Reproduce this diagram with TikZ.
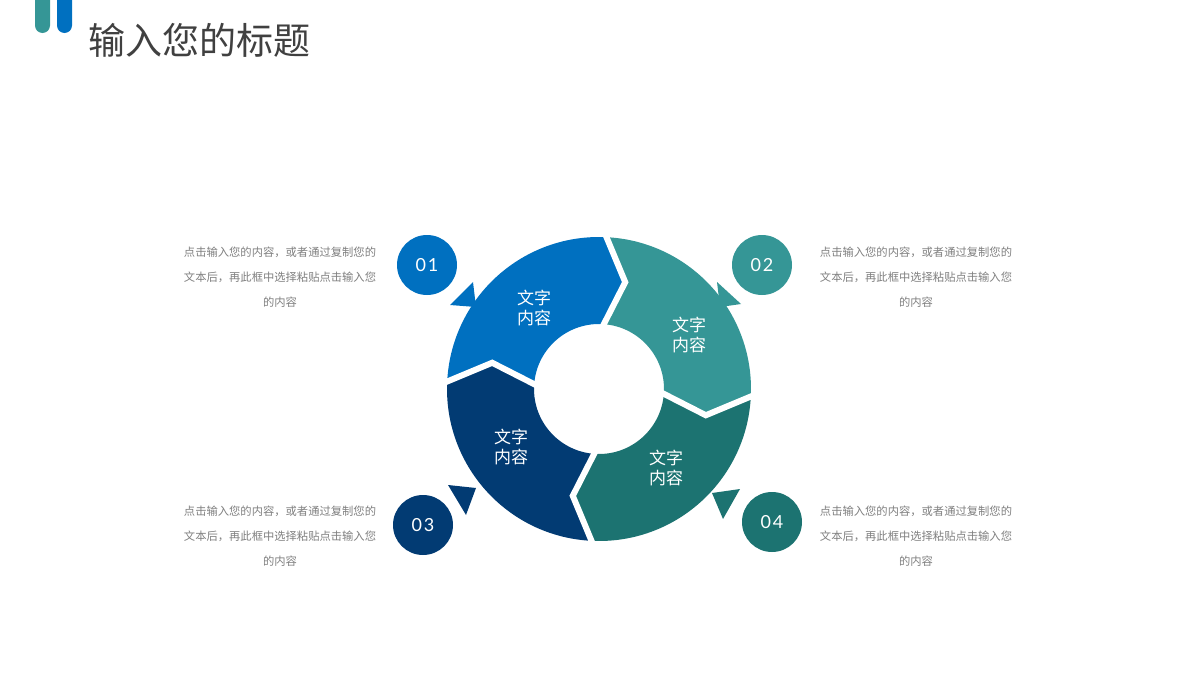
\documentclass[tikz,border=0pt]{standalone}
\usepackage{fontspec}
\setmainfont{Noto Sans CJK SC}
\newfontfamily\numfont[LetterSpace=10]{Lato}
\definecolor{cblue}{HTML}{0070C0}
\definecolor{cteal}{HTML}{359696}
\definecolor{cdteal}{HTML}{1C7371}
\definecolor{cdblue}{HTML}{023B73}
\definecolor{ctitle}{HTML}{404040}
\definecolor{cdesc}{HTML}{7F7F7F}
\newcommand\ringseg[3]{%
  \fill[#1] (#2:152pt) arc[start angle=#2, end angle=#3, radius=152pt]
    -- ({#3-12}:110pt) -- (#3:65pt)
    arc[start angle=#3, end angle=#2, radius=65pt]
    -- ({#2-12}:110pt) -- cycle;}
\newcommand\ringgap[1]{%
  \draw[white, line width=6pt, line join=miter] (#1:158pt) -- ({#1-12}:110pt) -- (#1:59pt);}
\tikzset{
  numcirc/.style={circle, minimum size=60pt, inner sep=0pt, text=white,
    font=\numfont\fontsize{18}{18}\selectfont},
  seglabel/.style={align=center, text=white, inner sep=0pt,
    font=\fontsize{17}{20}\selectfont},
  desc/.style={align=center, text=cdesc, inner sep=0pt,
    font=\fontsize{11.3}{25}\selectfont},
}
\begin{document}
\begin{tikzpicture}[x=1pt,y=1pt]
\useasboundingbox (0,0) rectangle (1200,-680);
% logo bars
\fill[cteal] (35,0) -- (35,-25.5) arc[start angle=180, end angle=360, radius=7.5pt] -- (50,0) -- cycle;
\fill[cblue] (57,0) -- (57,-25.5) arc[start angle=180, end angle=360, radius=7.5pt] -- (72,0) -- cycle;
% title
\node[anchor=west, text=ctitle, inner sep=0pt, font=\fontsize{37}{40}\selectfont] (title) at (88,-40) {输入您的标题};
% ring
\begin{scope}[shift={(599,-389)}]
  \ringseg{cblue}{178.2}{88.2}
  \ringseg{cteal}{88.2}{-1.8}
  \ringseg{cdteal}{-1.8}{-91.8}
  \ringseg{cdblue}{268.2}{178.2}
  \ringgap{88.2}
  \ringgap{-1.8}
  \ringgap{-91.8}
  \ringgap{178.2}
\end{scope}
% segment labels
\node[seglabel] (s1) at (534,-308) {文字\\内容};
\node[seglabel] (s2) at (689,-335) {文字\\内容};
\node[seglabel] (s3) at (666,-468) {文字\\内容};
\node[seglabel] (s4) at (511,-447) {文字\\内容};
% small triangles
\fill[cblue] (473,-282) -- (450,-305) -- (476,-307) -- cycle;
\fill[cteal] (717,-282) -- (741,-304) -- (720,-307) -- cycle;
\fill[cdblue] (448,-485) -- (476,-488) -- (466,-515) -- cycle;
\fill[cdteal] (712,-493) -- (740,-489) -- (723,-519) -- cycle;
% number circles
\node[numcirc, fill=cblue] (n1) at (427,-265) {01};
\node[numcirc, fill=cteal] (n2) at (762,-265) {02};
\node[numcirc, fill=cdblue] (n3) at (423,-525) {03};
\node[numcirc, fill=cdteal] (n4) at (772,-522) {04};
% descriptions
\node[desc] (d1) at (280,-277) {点击输入您的内容，或者通过复制您的\\文本后，再此框中选择粘贴点击输入您\\的内容};
\node[desc] (d2) at (916,-277) {点击输入您的内容，或者通过复制您的\\文本后，再此框中选择粘贴点击输入您\\的内容};
\node[desc] (d3) at (280,-536) {点击输入您的内容，或者通过复制您的\\文本后，再此框中选择粘贴点击输入您\\的内容};
\node[desc] (d4) at (916,-536) {点击输入您的内容，或者通过复制您的\\文本后，再此框中选择粘贴点击输入您\\的内容};
\end{tikzpicture}
\end{document}
